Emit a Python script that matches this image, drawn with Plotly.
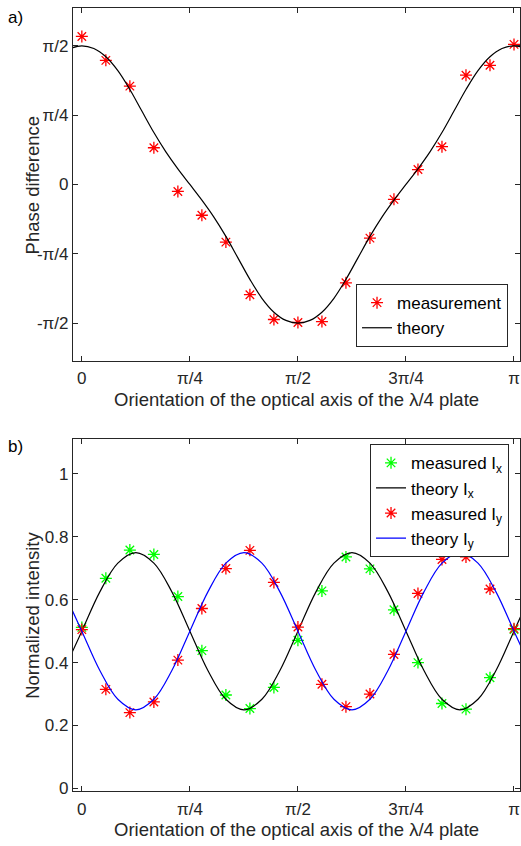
import plotly.graph_objects as go

# ---------------- data ----------------
# orientation angles (degrees) of the lambda/4 plate
theta_meas = [0, 10, 20, 30, 40, 50, 60, 70, 80, 90, 100, 110, 120, 130, 140, 150, 160, 170, 180]

# (a) phase difference (rad)
phase_meas = [1.677, 1.406, 1.114, 0.416, -0.079, -0.349, -0.653, -1.249, -1.530, -1.564,
              -1.553, -1.114, -0.608, -0.169, 0.169, 0.428, 1.238, 1.350, 1.587]
theta_phase_th = [-5, 0, 5, 10, 15, 20, 25, 30, 35, 40, 45, 50, 55, 60, 65, 70, 75, 80, 85, 90,
                  95, 100, 105, 110, 115, 120, 125, 130, 135, 140, 145, 150, 155, 160, 165, 170,
                  175, 180, 185]
phase_th = [1.5402, 1.5708, 1.5402, 1.4471, 1.2897, 1.0757, 0.8315, 0.5881, 0.3695, 0.1772,
            0.0, -0.1772, -0.3695, -0.5881, -0.8315, -1.0757, -1.2897, -1.4471, -1.5402,
            -1.5708,
            -1.5402, -1.4471, -1.2897, -1.0757, -0.8315, -0.5881, -0.3695, -0.1772, 0.0,
            0.1772, 0.3695, 0.5881, 0.8315, 1.0757, 1.2897, 1.4471, 1.5402, 1.5708, 1.5402]

# (b) normalized intensities
ix_meas = [0.512, 0.668, 0.758, 0.744, 0.610, 0.438, 0.297, 0.254, 0.321, 0.471,
           0.628, 0.736, 0.698, 0.568, 0.400, 0.270, 0.252, 0.352, 0.505]
iy_meas = [0.505, 0.315, 0.241, 0.275, 0.408, 0.572, 0.699, 0.757, 0.655, 0.513,
           0.331, 0.260, 0.300, 0.426, 0.620, 0.728, 0.736, 0.634, 0.508]
theta_int_th = [-7.5, 0, 7.5, 15, 22.5, 30, 37.5, 45, 52.5, 60, 67.5, 75, 82.5, 90, 97.5, 105,
                112.5, 120, 127.5, 135, 142.5, 150, 157.5, 165, 172.5, 180, 187.5]
ix_th = [0.375, 0.5, 0.625, 0.7165, 0.75, 0.7165, 0.625, 0.5, 0.375, 0.2835, 0.25, 0.2835,
         0.375, 0.5, 0.625, 0.7165, 0.75, 0.7165, 0.625, 0.5, 0.375, 0.2835, 0.25, 0.2835,
         0.375, 0.5, 0.625]
iy_th = [0.625, 0.5, 0.375, 0.2835, 0.25, 0.2835, 0.375, 0.5, 0.625, 0.7165, 0.75, 0.7165,
         0.625, 0.5, 0.375, 0.2835, 0.25, 0.2835, 0.375, 0.5, 0.625, 0.7165, 0.75, 0.7165,
         0.625, 0.5, 0.375]

x_tickvals = [0, 45, 90, 135, 180]
x_ticktext = ["0", "π/4", "π/2", "3π/4", "π"]
phase_tickvals = [-1.5708, -0.7854, 0.0, 0.7854, 1.5708]
phase_ticktext = ["-π/2", "-π/4", "0", "π/4", "π/2"]
int_tickvals = [0, 0.2, 0.4, 0.6, 0.8, 1.0]
int_ticktext = ["0", "0.2", "0.4", "0.6", "0.8", "1"]

xlabel = "Orientation of the optical axis of the λ/4 plate"

# ---------------- figure ----------------
W, H = 521, 846
FONT = "Liberation Sans, Arial, sans-serif"
AX = "#262626"

def px(v):
    return v / W

def py(v):
    return 1 - v / H

fig = go.Figure()

star = dict(symbol="asterisk-open", size=10, line=dict(width=1.3))

fig.add_trace(go.Scatter(x=theta_meas, y=phase_meas, mode="markers", name="measurement",
                         marker=dict(color="#ff0000", **star), xaxis="x", yaxis="y",
                         legend="legend"))
fig.add_trace(go.Scatter(x=theta_phase_th, y=phase_th, mode="lines", name="theory",
                         line=dict(color="#000000", width=1.2, shape="spline"),
                         xaxis="x", yaxis="y", legend="legend"))

fig.add_trace(go.Scatter(x=theta_meas, y=ix_meas, mode="markers", name="measured I<sub>x</sub>",
                         marker=dict(color="#00ff00", **star), xaxis="x2", yaxis="y2",
                         legend="legend2"))
fig.add_trace(go.Scatter(x=theta_int_th, y=ix_th, mode="lines", name="theory I<sub>x</sub>",
                         line=dict(color="#000000", width=1.2, shape="spline"),
                         xaxis="x2", yaxis="y2", legend="legend2"))
fig.add_trace(go.Scatter(x=theta_meas, y=iy_meas, mode="markers", name="measured I<sub>y</sub>",
                         marker=dict(color="#ff0000", **star), xaxis="x2", yaxis="y2",
                         legend="legend2"))
fig.add_trace(go.Scatter(x=theta_int_th, y=iy_th, mode="lines", name="theory I<sub>y</sub>",
                         line=dict(color="#0000ff", width=1.2, shape="spline"),
                         xaxis="x2", yaxis="y2", legend="legend2"))

axis_common = dict(showline=True, linecolor=AX, linewidth=1, mirror="ticks", ticks="inside",
                   ticklen=5, tickcolor=AX, tickwidth=1, showgrid=False, zeroline=False,
                   tickfont=dict(family=FONT, size=17, color=AX))

xdom = [px(73), 1.0]
fig.update_layout(
    width=W, height=H, margin=dict(l=0, r=0, t=0, b=0),
    paper_bgcolor="white", plot_bgcolor="white",
    font=dict(family=FONT, color=AX),
    xaxis=dict(domain=xdom, range=[-3.74, 182.5], tickvals=x_tickvals, ticktext=x_ticktext,
               anchor="y", ticklabelstandoff=2, **axis_common),
    yaxis=dict(domain=[py(364), py(8)], range=[-2, 2], tickvals=phase_tickvals,
               ticktext=phase_ticktext, anchor="x", **axis_common),
    xaxis2=dict(domain=xdom, range=[-3.74, 182.5], tickvals=x_tickvals, ticktext=x_ticktext,
                anchor="y2", ticklabelstandoff=2, **axis_common),
    yaxis2=dict(domain=[py(798), py(443)], range=[-0.0095, 1.11], tickvals=int_tickvals,
                ticktext=int_ticktext, anchor="x2", **axis_common),
    legend=dict(x=px(509), y=py(350), xanchor="right", yanchor="bottom",
                bgcolor="white", bordercolor="#262626", borderwidth=1,
                font=dict(family=FONT, size=17, color="#000000"),
                tracegroupgap=0),
    legend2=dict(x=px(510), y=py(448), xanchor="right", yanchor="top",
                 bgcolor="white", bordercolor="#262626", borderwidth=1,
                 font=dict(family=FONT, size=17, color="#000000"),
                 tracegroupgap=0),
    showlegend=True,
)

ann_font = dict(family=FONT, size=18.5, color=AX)
annotations = [
    dict(text="a)", x=px(16), y=py(18), xanchor="center", yanchor="middle",
         xref="paper", yref="paper", showarrow=False,
         font=dict(family=FONT, size=17, color="#000000")),
    dict(text="b)", x=px(16), y=py(450), xanchor="center", yanchor="middle",
         xref="paper", yref="paper", showarrow=False,
         font=dict(family=FONT, size=17, color="#000000")),
    dict(text="Phase difference", x=px(33), y=py(186), xanchor="center", yanchor="middle",
         xref="paper", yref="paper", showarrow=False, textangle=-90, font=ann_font),
    dict(text="Normalized intensity", x=px(33), y=py(620), xanchor="center", yanchor="middle",
         xref="paper", yref="paper", showarrow=False, textangle=-90, font=ann_font),
    dict(text=xlabel, x=px(297), y=py(403), xanchor="center", yanchor="middle",
         xref="paper", yref="paper", showarrow=False, font=ann_font),
    dict(text=xlabel, x=px(297), y=py(836), xanchor="center", yanchor="middle",
         xref="paper", yref="paper", showarrow=False, font=ann_font),
]
fig.update_layout(annotations=annotations)

fig.write_html("out.html")
